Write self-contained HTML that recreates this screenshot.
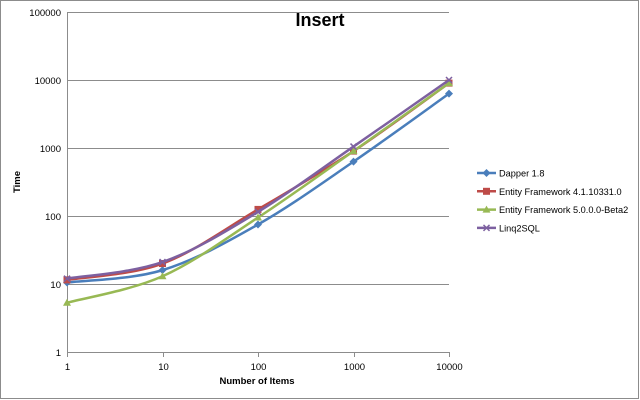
<!DOCTYPE html>
<html><head><meta charset="utf-8"><style>
html,body{margin:0;padding:0;background:#fff}
svg{display:block;font-family:"Liberation Sans",Arial,sans-serif}
</style></head><body>
<svg id="chart" width="640" height="400" viewBox="0 0 640 400" xmlns="http://www.w3.org/2000/svg">
<rect x="0.5" y="0.5" width="638" height="398" fill="#fff" stroke="#8c8c8c"/>
<text x="320" y="26" font-size="18" font-weight="bold" text-anchor="middle">Insert</text>
<g id="grid"></g><g id="axes"></g><g id="series"></g><g id="legend"></g>
<text x="257" y="384" font-size="9.5" font-weight="bold" text-anchor="middle">Number of Items</text>
<text transform="translate(20,182) rotate(-90)" font-size="9.5" font-weight="bold" text-anchor="middle">Time</text>
</svg>
<script>
const xCategories = [1, 10, 100, 1000, 10000];
const yTicks = [1, 10, 100, 1000, 10000, 100000];
const seriesNames = ["Dapper 1.8", "Entity Framework 4.1.10331.0", "Entity Framework 5.0.0.0-Beta2", "Linq2SQL"];
const dapper = [10.5, 16, 75, 630, 6300];
const ef4 = [11.5, 20, 125, 900, 9000];
const ef5 = [5.3, 13, 95, 900, 9000];
const linq = [12, 21, 115, 1050, 10000];
const seriesValues = [dapper, ef4, ef5, linq];
const colors = ["#4a7ebb", "#be4b48", "#98b954", "#7d60a0"];

const NS = "http://www.w3.org/2000/svg";
const L = 67, R = 449, T = 12, B = 352;
function xs(v){ return L + (Math.log10(v) - 0) / 4 * (R - L); }
function ys(v){ return B - (Math.log10(v) - 0) / 5 * (B - T); }
function mk(tag, attrs, parent){ const e = document.createElementNS(NS, tag); for (const k in attrs) e.setAttribute(k, attrs[k]); parent.appendChild(e); return e; }

const grid = document.getElementById('grid'), axes = document.getElementById('axes');
yTicks.forEach(t => {
  const y = Math.round(ys(t)) + 0.5;
  const g = mk('line', {x1: L, x2: R, y1: y, y2: y, stroke: '#8c8c8c', 'stroke-width': 1}, grid);
  
  
  const tx = mk('text', {x: L - 6, y: y + 3.5, 'font-size': 9.5, 'text-anchor': 'end'}, axes);
  tx.textContent = t;
  
  
});
const ya = mk('line', {x1: L + 0.5, x2: L + 0.5, y1: T, y2: B + 4, stroke: '#8c8c8c'}, axes);


xCategories.forEach(c => {
  const x = Math.round(xs(c)) + 0.5;
  mk('line', {x1: x, x2: x, y1: B, y2: B + 5, stroke: '#8c8c8c'}, axes);
  const tx = mk('text', {x: x, y: B + 18, 'font-size': 9.5, 'text-anchor': 'middle'}, axes);
  tx.textContent = c;
  
  
});

function smoothPath(pts){
  let d = `M${pts[0][0]},${pts[0][1]}`;
  const t = 0.5 / 3;
  for (let i = 0; i < pts.length - 1; i++){
    const p0 = pts[Math.max(0, i-1)], p1 = pts[i], p2 = pts[i+1], p3 = pts[Math.min(pts.length-1, i+2)];
    const c1 = [p1[0] + (p2[0]-p0[0])*t, p1[1] + (p2[1]-p0[1])*t];
    const c2 = [p2[0] - (p3[0]-p1[0])*t, p2[1] - (p3[1]-p1[1])*t];
    d += ` C${c1[0]},${c1[1]} ${c2[0]},${c2[1]} ${p2[0]},${p2[1]}`;
  }
  return d;
}
function marker(kind, x, y, color, parent){
  let m;
  if (kind === 0) m = mk('path', {d: `M${x},${y-4}L${x+4},${y}L${x},${y+4}L${x-4},${y}Z`, fill: color}, parent);
  else if (kind === 1) m = mk('rect', {x: x-3.5, y: y-3.5, width: 7, height: 7, fill: color}, parent);
  else if (kind === 2) m = mk('path', {d: `M${x},${y-4}L${x+4},${y+3}L${x-4},${y+3}Z`, fill: color}, parent);
  else m = mk('path', {d: `M${x-3},${y-3}L${x+3},${y+3}M${x-3},${y+3}L${x+3},${y-3}`, stroke: color, 'stroke-width': 1.5, fill: 'none'}, parent);
  return m;
}
const sg = document.getElementById('series'), lg = document.getElementById('legend');
seriesValues.forEach((vals, si) => {
  const pts = vals.map((v, i) => [xs(xCategories[i]), ys(v)]);
  const p = mk('path', {d: smoothPath(pts), fill: 'none', stroke: colors[si], 'stroke-width': 2.5}, sg);
  
  
  pts.forEach(pt => {
    const m = marker(si, pt[0], pt[1], colors[si], sg);
    
    
  });
  const ly = 173 + si * 18.3;
  const ll = mk('line', {x1: 477, x2: 496, y1: ly, y2: ly, stroke: colors[si], 'stroke-width': 2.5}, lg);
  
  
  marker(si, 486.5, ly, colors[si], lg);
  const lt = mk('text', {x: 499, y: ly + 3.5, 'font-size': 9.2}, lg);
  lt.textContent = seriesNames[si];
  
  
});
</script>
</body></html>
